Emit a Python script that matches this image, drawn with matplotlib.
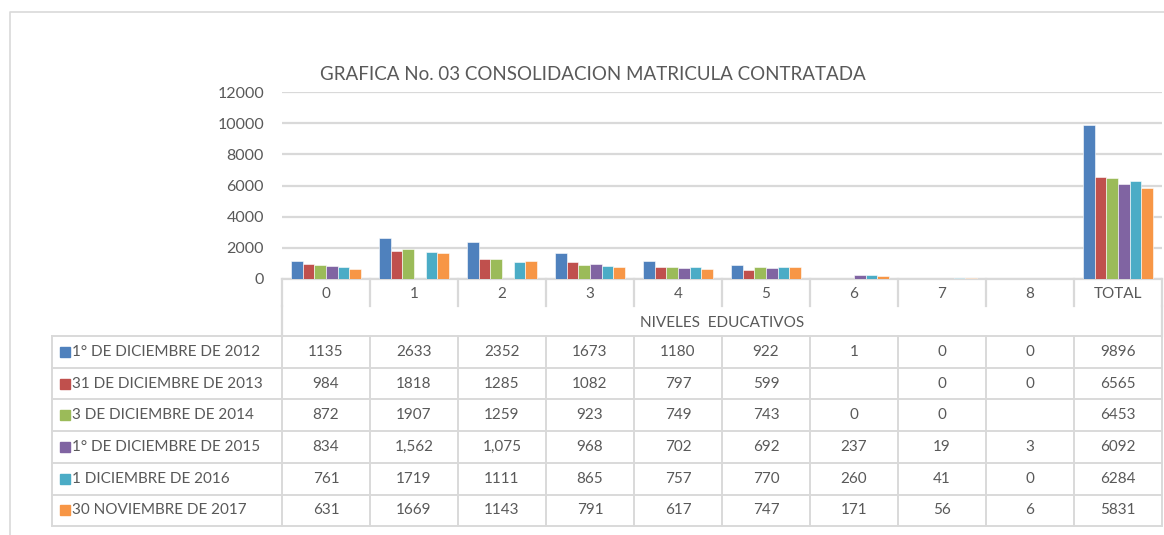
import numpy as np
import matplotlib.pyplot as plt

plt.rcParams['font.family'] = ['Lato', 'DejaVu Sans']

categories = ['0', '1', '2', '3', '4', '5', '6', '7', '8', 'TOTAL']
series = ['1° DE DICIEMBRE DE 2012', '31 DE DICIEMBRE DE 2013', '3 DE DICIEMBRE DE 2014',
          '1° DE DICIEMBRE DE 2015', '1 DICIEMBRE DE 2016', '30 NOVIEMBRE DE 2017']
# table cells as they appear (text cells like "1,562" are not plotted)
s2012 = ['1135', '2633', '2352', '1673', '1180', '922', '1', '0', '0', '9896']
s2013 = ['984', '1818', '1285', '1082', '797', '599', '', '0', '0', '6565']
s2014 = ['872', '1907', '1259', '923', '749', '743', '0', '0', '', '6453']
s2015 = ['834', '1,562', '1,075', '968', '702', '692', '237', '19', '3', '6092']
s2016 = ['761', '1719', '1111', '865', '757', '770', '260', '41', '0', '6284']
s2017 = ['631', '1669', '1143', '791', '617', '747', '171', '56', '6', '5831']
rows = [s2012, s2013, s2014, s2015, s2016, s2017]
colors = ['#4F81BD', '#C0504D', '#9BBB59', '#8064A2', '#4BACC6', '#F79646']
title = 'GRAFICA No. 03 CONSOLIDACION MATRICULA CONTRATADA'
xtitle = 'NIVELES  EDUCATIVOS'
yticks = [0, 2000, 4000, 6000, 8000, 10000, 12000]

def to_num(s):
    if s == '' or ',' in s:
        return np.nan
    return float(s)

W, H = 1164, 535
fig = plt.figure(figsize=(W / 100, H / 100), dpi=100)
grid = '#D9D9D9'
txt = '#595959'

# plot area in pixels
x0, x1, y0, y1 = 282, 1162, 279, 92
ax = fig.add_axes([x0 / W, (H - y0) / H, (x1 - x0) / W, (y0 - y1) / H])
n = len(categories)
x = np.arange(n)
bw = 1 / 7.65
for i, r in enumerate(rows):
    vals = np.array([to_num(v) for v in r])
    ax.bar(x + (i - 2.5) * bw, vals, bw, color=colors[i], edgecolor='white', linewidth=0.4, zorder=3)
ax.set_xlim(-0.5, n - 0.5)
ax.set_ylim(0, 12000)
ax.set_yticks(yticks)
ax.set_xticks([])
ax.yaxis.grid(True, color=grid, linewidth=1.6, zorder=0)
for s in ['top', 'right', 'left']:
    ax.spines[s].set_visible(False)
ax.spines['bottom'].set_color(grid)
ax.spines['bottom'].set_linewidth(1.6)
ax.tick_params(axis='y', length=0, pad=13, labelsize=11.5, labelcolor=txt)

# overlay for title, table and frame
tx = fig.add_axes([0, 0, 1, 1])
tx.set_xlim(0, W)
tx.set_ylim(H, 0)
tx.axis('off')
tx.text(593, 75, title, ha='center', va='center', fontsize=13.5, color=txt)

# outer frame
tx.plot([10, 10, W], [H, 12, 12], color=grid, lw=1.2)

cw = (x1 - x0) / n
# category label row
for k in range(n + 1):
    tx.plot([x0 + k * cw] * 2, [y0, 306], color=grid, lw=1.6)
for k, c in enumerate(categories):
    tx.text(x0 + (k + 0.5) * cw, 294, c, ha='center', va='center', fontsize=11, color=txt)
# axis title row
tx.plot([x0, x0], [306, 336], color=grid, lw=1.6)
tx.plot([x1, x1], [306, 336], color=grid, lw=1.6)
tx.text(x0 + (x1 - x0) / 2, 323, xtitle, ha='center', va='center', fontsize=11, color=txt)

# data rows
lx = 52
rt, rh = 336, 31.7
for j in range(len(rows) + 1):
    tx.plot([lx, x1], [rt + j * rh] * 2, color=grid, lw=1.4)
tx.plot([lx, lx], [rt, rt + len(rows) * rh], color=grid, lw=1.4)
for k in range(n + 1):
    tx.plot([x0 + k * cw] * 2, [rt, rt + len(rows) * rh], color=grid, lw=1.4)
for j, r in enumerate(rows):
    yc = rt + (j + 0.5) * rh
    tx.add_patch(plt.Rectangle((60, yc - 5), 10, 10, color=colors[j]))
    tx.text(72, yc, series[j], ha='left', va='center', fontsize=11, color=txt)
    for k, v in enumerate(r):
        tx.text(x0 + (k + 0.5) * cw, yc, v, ha='center', va='center', fontsize=11, color=txt)

fig.savefig('out.png', dpi=100, facecolor='white')
